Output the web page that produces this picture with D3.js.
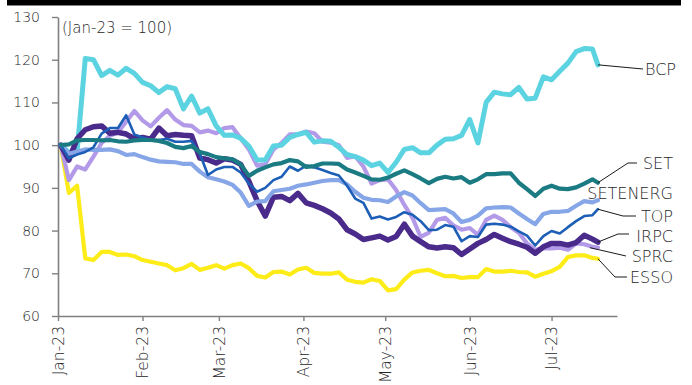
<!DOCTYPE html>
<html>
<head>
<meta charset="utf-8">
<script src="https://cdn.jsdelivr.net/npm/d3@7"></script>
<style>
  html, body { margin: 0; padding: 0; background: #fff; }
  svg { display: block; font-family: "DejaVu Sans", sans-serif; font-weight: 300; }
</style>
</head>
<body>
<svg id="chart" width="692" height="385"></svg>
<script>
// ---------------- DATA ----------------
const dates = ["2023-01-02","2023-01-05","2023-01-08","2023-01-11","2023-01-14","2023-01-17","2023-01-20","2023-01-23","2023-01-26","2023-01-29",
"2023-02-01","2023-02-04","2023-02-07","2023-02-10","2023-02-13","2023-02-16","2023-02-19","2023-02-22","2023-02-25","2023-02-28",
"2023-03-03","2023-03-06","2023-03-09","2023-03-12","2023-03-15","2023-03-18","2023-03-21","2023-03-24","2023-03-27","2023-03-30",
"2023-04-02","2023-04-05","2023-04-08","2023-04-11","2023-04-14","2023-04-17","2023-04-20","2023-04-23","2023-04-26","2023-04-29",
"2023-05-02","2023-05-05","2023-05-08","2023-05-11","2023-05-14","2023-05-17","2023-05-20","2023-05-23","2023-05-26","2023-05-29",
"2023-06-01","2023-06-04","2023-06-07","2023-06-10","2023-06-13","2023-06-16","2023-06-19","2023-06-22","2023-06-25","2023-06-28",
"2023-07-01","2023-07-04","2023-07-07","2023-07-10","2023-07-13","2023-07-16","2023-07-18"];

const BCP = [100,98.3,98.5,120.3,120,116.3,117.5,116.4,118,116.8,
114.7,113.9,112.3,113.7,113.2,108.5,111.5,107.5,108.5,104.5,
102.3,102.4,101.6,99.8,96.5,96.5,99.8,100,101.8,102.5,
103,100.7,101,100.9,99.5,97.8,97.3,96.5,95.2,95.8,
93.6,96,99,99.4,98.2,98.2,100,101.4,101.5,102.3,
106,100.5,110,112.4,112,111.8,113.5,110.8,111,116,
115.3,117.3,119.2,121.9,122.6,122.5,118.8];

const SET = [100,100.2,101.1,101.2,101.2,101.1,101.2,100.9,100.8,101.1,
101.2,101.2,101,100.5,99.6,99.3,99.8,98.4,97.9,97.2,
96.9,96.7,95.5,92.8,94,94.8,95.5,95.8,96.5,96.2,
94.9,95.1,95.7,95.7,95.6,94.3,93.6,92.8,92,91.9,
92.4,93.3,94.1,93.2,92.2,91.1,92.1,92.6,92.2,92.5,
91.2,92,93.2,93.2,93.4,93.4,91.2,89.7,88.1,89.8,
90.5,89.8,89.7,90.1,91,92,91.2];

const SETENERG = [100,98,98.5,99,98.9,98.9,99,98.6,97.7,97.9,
97.2,96.6,96.2,96.1,96,95.6,95.6,93.8,92.5,92,
91.5,90.7,88.9,85.8,86.8,86.9,89.2,89.5,89.8,90.5,
90.8,91.2,91.6,91.8,91.8,90.8,89.1,87.7,87.2,87.1,
86.7,88,89,88.2,86.4,84.8,84.9,85,84,82,
82.5,83.5,85.2,85.4,85.5,85.4,84,82.7,81.5,83.9,
84.4,84.4,84.6,85.8,86.9,86.6,87.1];

const TOP = [100,96.9,97.8,98.4,99.5,102.7,104,104,107,102.5,
101.8,101.2,101.2,101.5,100.8,100.8,101,98,93,94.3,
94.9,94.9,93.6,91,89.1,90,91.8,92.6,95,94,
95.2,94.8,94.2,93.5,92.9,90.5,87.5,86.5,82.8,83.3,
82.6,83.2,84.3,83.7,82.2,80.1,80.2,81.3,80.9,77.5,
78.7,78.5,81.4,81.6,81.4,80.9,79.8,78.8,76.5,78.7,
79.9,79.3,80.8,82.2,83.4,83.6,85];

const IRPC = [100,96.5,101.5,103.6,104.3,104.5,102.8,103,102.6,101.5,
101.8,101.4,104,102.2,102.5,102.3,102.2,97,96.6,95.8,
96.8,96.5,95.5,91.5,87,83.4,87.8,88,87,88.7,
86.5,85.9,85.1,84.1,82.7,80.2,79.2,77.9,78.3,78.7,
77.8,78.6,81.5,78.7,77.4,76.2,75.9,76.2,76,74.4,
75.7,77,77.9,79.1,78.2,77.4,76.8,76.1,74.7,76.2,
77,77,76.6,77.2,78.9,78,77.3];

const SPRC = [100,91.8,95,94.3,97.3,100.5,102.2,103,105.5,108,
105.8,104.4,106.4,108.2,106,104.7,104.5,103,103.4,102.8,
104,104.2,101.6,99,95.2,95.5,99,100.5,102.5,102.5,
103.2,102.8,100.8,100.6,100,97,97.4,95,91,91.8,
92,89.5,86,83,78.5,79.5,82.5,83,81.2,80.2,
80.6,79,82.5,83.5,82.5,80.8,79.5,77,75.5,75.8,
75.8,76,75.5,77,76.8,76.2,76];

const ESSO = [100,88.8,90.5,73.5,73.1,75,75,74.3,74.4,74,
73.1,72.7,72.3,71.9,70.7,71.2,72.2,70.8,71.3,71.9,
71.1,71.9,72.3,71.2,69.4,69,70.3,70.4,69.7,70.9,
71.3,70.1,69.9,69.9,70.2,68.5,68,67.8,68.6,68.2,
66,66.3,68.5,70.2,70.6,70.8,70,69.3,69.4,68.9,
69.1,69.1,71,70.4,70.4,70.6,70.3,70.2,69.2,69.9,
70.5,71.5,73.8,74.2,74.2,73.6,73.4];

const seriesNames = ["ESSO","SPRC","BCP","IRPC","SETENERG","TOP","SET"]; // draw order
const seriesValues = {BCP, SET, SETENERG, TOP, IRPC, SPRC, ESSO};
const yTicks = [60,70,80,90,100,110,120,130];
const xTickDates = ["2023-01-01","2023-02-01","2023-03-01","2023-04-01","2023-05-01","2023-06-01","2023-07-01"];
const baseNote = "(Jan-23 = 100)";

// ---------------- STYLE / LAYOUT ----------------
const colors = {BCP:"#5cd3e1", SET:"#1a7b82", SETENERG:"#86a6e8", TOP:"#1d5fb6",
                IRPC:"#4a2a8a", SPRC:"#b39ae8", ESSO:"#fdec17"};
const widths = {BCP:5, SET:4.2, SETENERG:4.2, TOP:2.6, IRPC:5.5, SPRC:4.2, ESSO:4.2};
const labelLayout = {
  BCP:      {tx:645, ty:69,  anchor:"start", dx:0,  pts:[[643,69]]},
  SET:      {tx:673, ty:163, anchor:"end",   dx:0,  pts:[[628,163],[637,163]]},
  SETENERG: {tx:673, ty:193, anchor:"end",   dx:0,  pts:null},
  TOP:      {tx:673, ty:216, anchor:"end",   dx:0,  pts:[[623,216],[636,216]]},
  IRPC:     {tx:673, ty:236, anchor:"end",   dx:0,  pts:[[618,234],[629,234]]},
  SPRC:     {tx:673, ty:256, anchor:"end",   dx:-8, pts:[[626,256]]},
  ESSO:     {tx:673, ty:277, anchor:"end",   dx:0,  pts:[[615,277],[627,277]]}
};
const textColor = "#262626";
const axisColor = "#808080";
const fontFam = "'DejaVu Sans', sans-serif";

// ---------------- CHART ----------------
const parse = d3.timeParse("%Y-%m-%d");
const dateObjs = dates.map(parse);

const svg = d3.select("#chart");

// top black bar
svg.append("rect").attr("x",7).attr("y",0).attr("width",674).attr("height",5.5).attr("fill","#000");

const x = d3.scaleTime()
  .domain([parse("2023-01-01"), parse("2023-07-25")])
  .range([58, 617]);
const y = d3.scaleLinear().domain([60,130]).range([316,17]);

// Y axis
const yAxis = svg.append("g").attr("transform","translate(58,0)")
  .call(d3.axisLeft(y).tickValues(yTicks).tickSize(6).tickSizeOuter(0).tickPadding(12));
yAxis.select(".domain").attr("stroke",axisColor).attr("stroke-width",1.6);
yAxis.selectAll(".tick line").attr("stroke",axisColor).attr("stroke-width",1.4);
yAxis.selectAll("text").attr("fill",textColor).style("font-size","14px")
  .style("font-family",fontFam).style("font-weight",300);

// X axis
const xAxis = svg.append("g").attr("transform","translate(0,316)")
  .call(d3.axisBottom(x).tickValues(xTickDates.map(parse))
    .tickFormat(d3.timeFormat("%b-%y")).tickSize(5).tickSizeOuter(0));
xAxis.select(".domain").attr("stroke",axisColor).attr("stroke-width",1.6);
xAxis.selectAll(".tick line").attr("stroke",axisColor).attr("stroke-width",1.4);
xAxis.selectAll("text")
  .attr("fill",textColor)
  .style("font-size","15.5px")
  .style("font-family",fontFam).style("font-weight",300)
  .attr("y",0).attr("x",-10).attr("dy","0.35em")
  .attr("transform","rotate(-90)")
  .style("text-anchor","end");

// base note
svg.append("text").attr("x",62).attr("y",32.5)
  .attr("fill",textColor).style("font-size","15px").text(baseNote);

// lines
const line = d3.line()
  .x((d,i) => x(dateObjs[i]))
  .y(d => y(d));

seriesNames.forEach(name => {
  svg.append("path")
    .datum(seriesValues[name])
    .attr("fill","none")
    .attr("stroke",colors[name])
    .attr("stroke-width",widths[name])
    .attr("stroke-linejoin","round")
    .attr("stroke-linecap","round")
    .attr("d",line);
});

// labels + leaders
Object.keys(labelLayout).forEach(name => {
  const L = labelLayout[name];
  const vals = seriesValues[name];
  const n = vals.length - 1;
  if (L.pts) {
    const start = [x(dateObjs[n]) + L.dx, y(vals[n])];
    svg.append("path")
      .attr("d", d3.line()([start, ...L.pts]))
      .attr("fill","none").attr("stroke","#1a1a1a").attr("stroke-width",1);
  }
  svg.append("text")
    .attr("x",L.tx).attr("y",L.ty).attr("dy","0.36em")
    .attr("text-anchor",L.anchor)
    .attr("fill",textColor)
    .style("font-size","16px")
    .text(name);
});
</script>
</body>
</html>
